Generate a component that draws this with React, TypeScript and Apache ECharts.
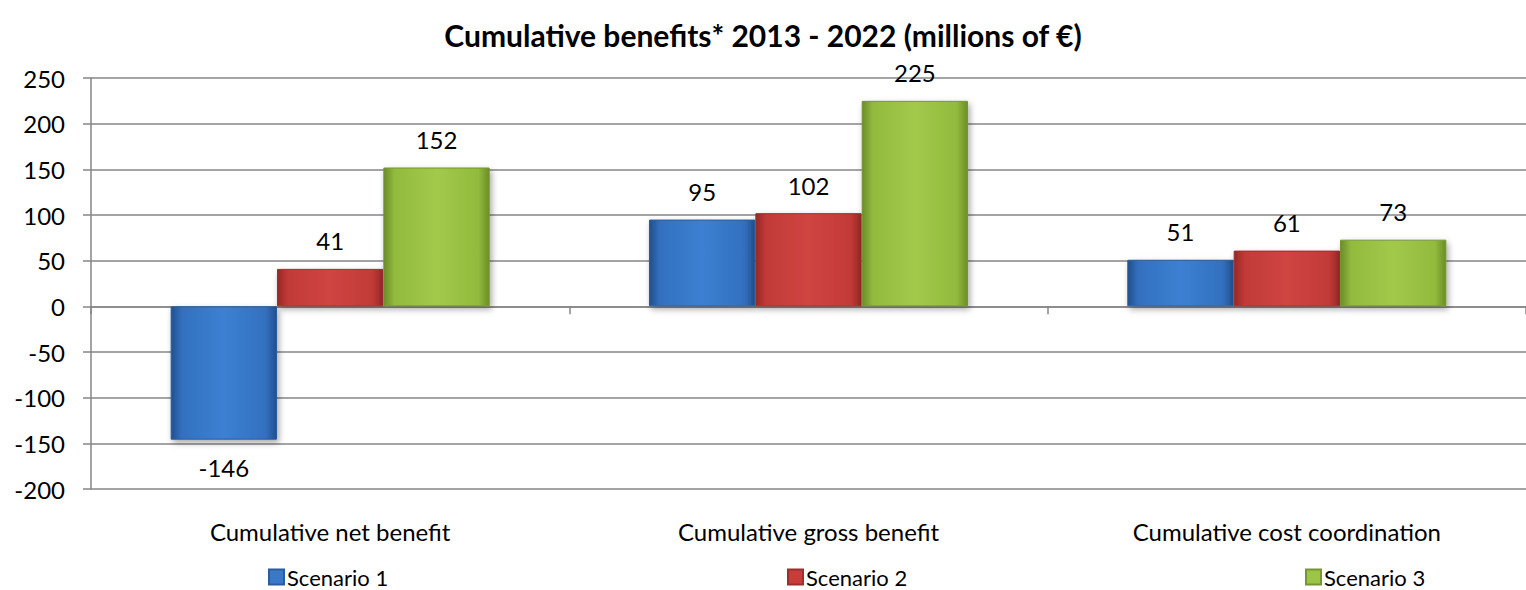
import React, { useEffect, useRef } from "react";
import * as echarts from "echarts";

const categories = ["Cumulative net benefit", "Cumulative gross benefit", "Cumulative cost coordination"];
const seriesNames = ["Scenario 1", "Scenario 2", "Scenario 3"];
const scenario1 = [-146, 95, 51];
const scenario2 = [41, 102, 61];
const scenario3 = [152, 225, 73];
const yTicks = { min: -200, max: 250, interval: 50 };

const FONT = "Lato, 'Open Sans', sans-serif";

const grad = (edge: string, mid: string, light: string) =>
  new echarts.graphic.LinearGradient(0, 0, 1, 0, [
    { offset: 0, color: edge },
    { offset: 0.1, color: mid },
    { offset: 0.5, color: light },
    { offset: 0.9, color: mid },
    { offset: 1, color: edge },
  ]);

const colors = [
  { fill: () => grad("#22508c", "#3370bf", "#3c80d2"), legend: "#3a78c8", border: "#2a5d9e" },
  { fill: () => grad("#962826", "#c23a37", "#cf4542"), legend: "#c83c3a", border: "#9e2e2c" },
  { fill: () => grad("#6c8c28", "#92ba3d", "#a2c94a"), legend: "#9cc445", border: "#759632" },
];

export default function App() {
  const ref = useRef<HTMLDivElement>(null);
  useEffect(() => {
    document.body.style.margin = "0";
    const chart = echarts.init(ref.current!, undefined, { renderer: "svg" });
    const all = [scenario1, scenario2, scenario3];
    const series = all.map((vals, i) => ({
      name: seriesNames[i],
      type: "bar",
      xAxisIndex: 0,
      barGap: "0%",
      barCategoryGap: "33.3%",
      itemStyle: {
        color: colors[i].fill(),
        borderColor: colors[i].border,
        borderWidth: 1,
        shadowColor: "rgba(0,0,0,0.35)",
        shadowBlur: 6,
        shadowOffsetX: 2,
        shadowOffsetY: 3,
      },
      data: vals.map((v) => ({
        value: v,
        label: { position: v < 0 ? "bottom" : "top" },
      })),
      label: {
        show: true,
        distance: 16,
        fontFamily: FONT,
        fontSize: 24,
        color: "#000",
      },
    }));
    const legendLefts = [268, 787, 1305];
    chart.setOption({
      animation: false,
      title: {
        text: "Cumulative benefits* 2013 - 2022 (millions of €)",
        left: "center",
        top: 15,
        textStyle: { fontFamily: FONT, fontSize: 30, fontWeight: "bold", color: "#000" },
      },
      legend: seriesNames.map((n, i) => ({
        data: [{ name: n, itemStyle: { color: colors[i].legend } }],
        left: legendLefts[i],
        top: 566,
        padding: 0,
        icon: "rect",
        itemWidth: 15,
        itemHeight: 15,
        itemGap: 4,
        textStyle: { fontFamily: FONT, fontSize: 22, lineHeight: 22, color: "#000", padding: [0, 0, 0, -2] },
      })),
      grid: { left: 91, right: -14, top: 78, bottom: 101, containLabel: false },
      xAxis: [
        {
          type: "category",
          data: categories,
          axisLine: { onZero: true, lineStyle: { color: "#868686", width: 1.5 } },
          axisTick: { show: true, length: 8, lineStyle: { color: "#868686", width: 1.5 } },
          axisLabel: { show: false },
        },
        {
          type: "category",
          data: categories,
          position: "bottom",
          axisLine: { show: false, onZero: false },
          axisTick: { show: false },
          axisLabel: { show: true, margin: 30, fontFamily: FONT, fontSize: 24, color: "#000" },
        },
      ],
      yAxis: {
        type: "value",
        min: yTicks.min,
        max: yTicks.max,
        interval: yTicks.interval,
        axisLine: { show: true, lineStyle: { color: "#868686", width: 1.5 } },
        axisTick: { show: true, length: 8, lineStyle: { color: "#868686", width: 1.5 } },
        axisLabel: { margin: 26, fontFamily: FONT, fontSize: 24, color: "#000" },
        splitLine: { show: true, lineStyle: { color: "#868686", width: 1.5 } },
      },
      series,
    });
    return () => chart.dispose();
  }, []);
  return <div ref={ref} style={{ width: 1526, height: 590 }} />;
}
